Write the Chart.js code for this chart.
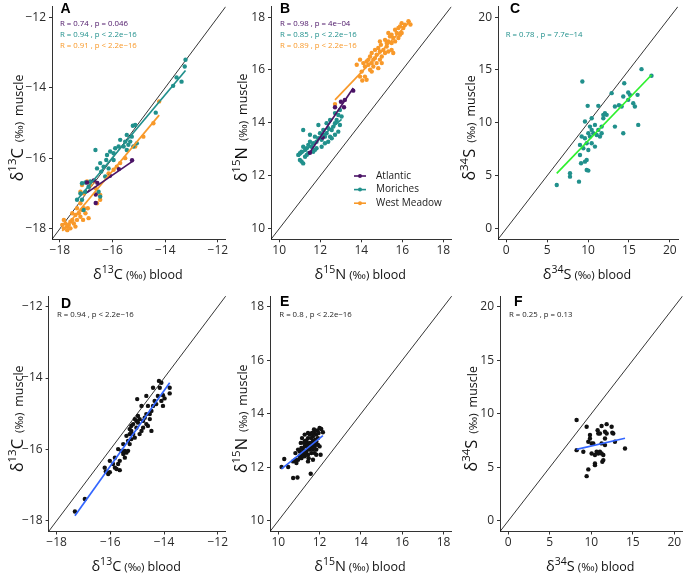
<!DOCTYPE html>
<html>
<head>
<meta charset="utf-8">
<script src="https://cdn.jsdelivr.net/npm/chart.js@4.4.0/dist/chart.umd.min.js"></script>
<style>
  html, body { margin: 0; padding: 0; background: #fff; }
  #fig { position: relative; width: 685px; height: 577px; overflow: hidden; }
  #fig canvas { position: absolute; }
</style>
</head>
<body>
<div id="fig">
  <canvas id="pA" width="228" height="287" style="left:0;top:0"></canvas>
  <canvas id="pB" width="226" height="287" style="left:228px;top:0"></canvas>
  <canvas id="pC" width="231" height="287" style="left:454px;top:0"></canvas>
  <canvas id="pD" width="228" height="290" style="left:0;top:287px"></canvas>
  <canvas id="pE" width="226" height="290" style="left:228px;top:287px"></canvas>
  <canvas id="pF" width="231" height="290" style="left:454px;top:287px"></canvas>
</div>
<script>
// ---- axes ----
const cLim = [-18.3, -11.7], cTicks = [-18, -16, -14, -12];
const nLim = [9.6, 18.4], nTicks = [10, 12, 14, 16, 18];
const sLim = [-1, 21], sTicks = [0, 5, 10, 15, 20];

const siteNames = ['Atlantic', 'Moriches', 'West Meadow'];

// ---- A: d13C by site ----
const cAtlX = [-15.26, -15.76, -16.10, -16.58, -16.71, -16.64, -16.64, -16.97];
const cAtlY = [-16.06, -16.31, -16.50, -16.70, -16.63, -17.03, -17.27, -16.69];
const cMorX = [-13.23, -13.26, -13.57, -13.38, -13.70, -14.36, -15.23, -15.14, -15.46, -15.27,
  -15.08, -15.40, -15.21, -15.58, -15.77, -15.90, -16.09, -15.96, -16.21, -16.24,
  -15.96, -16.65, -16.47, -16.34, -16.59, -16.43, -16.15, -16.28, -16.84, -17.03,
  -17.16, -16.91, -17.03, -17.22, -17.16, -16.53, -16.47, -17.35, -17.10, -15.71,
  -15.52, -15.33, -15.46];
const cMorY = [-13.21, -13.40, -13.71, -13.83, -13.95, -14.71, -15.08, -15.06, -15.34, -15.39,
  -15.58, -15.62, -15.67, -15.67, -15.67, -15.72, -15.81, -15.86, -15.91, -16.05,
  -16.05, -15.77, -16.14, -16.24, -16.29, -16.38, -16.29, -16.52, -16.66, -16.69,
  -16.71, -16.81, -16.95, -17.00, -17.18, -16.95, -17.09, -17.18, -17.47, -15.48,
  -15.53, -15.53, -15.77];
const cWmX = [-17.85, -17.79, -17.72, -17.66, -17.60, -17.53, -17.47, -17.41, -17.35, -17.72,
  -17.60, -17.91, -17.85, -17.22, -17.28, -17.41, -17.16, -17.09, -17.35, -17.53,
  -17.03, -16.91, -17.22, -17.22, -17.09, -17.16, -16.97, -16.84, -16.72, -16.47,
  -16.47, -16.59, -16.15, -15.96, -15.84, -15.71, -15.52, -15.14, -14.83, -14.45,
  -14.23, -16.65, -17.12, -16.94];
const cWmY = [-17.75, -17.85, -17.94, -17.89, -17.80, -17.75, -17.85, -17.94, -17.75, -18.04,
  -17.99, -17.89, -17.99, -17.66, -17.56, -17.61, -17.47, -17.42, -17.42, -17.56,
  -17.56, -17.70, -17.28, -16.95, -17.00, -16.76, -16.66, -16.76, -16.66, -17.04,
  -17.18, -17.28, -16.43, -16.33, -16.24, -16.14, -16.00, -15.67, -15.39, -15.01,
  -14.39, -16.85, -17.75, -17.42];
const statsA = ['R = 0.74 , p = 0.046', 'R = 0.94 , p < 2.2e\u221216', 'R = 0.91 , p < 2.2e\u221216'];

// ---- B: d15N by site ----
const nAtlX = [13.61, 13.20, 13.01, 12.72, 13.16, 12.12, 11.50];
const nAtlY = [15.22, 14.87, 14.80, 14.59, 14.59, 13.45, 12.87];
const nMorX = [12.96, 12.88, 13.04, 12.80, 12.72, 12.64, 12.96, 12.56, 12.39, 12.31,
  12.48, 12.23, 12.15, 12.07, 11.99, 11.91, 11.82, 11.74, 11.66, 11.58,
  11.50, 11.42, 11.34, 11.26, 11.17, 11.09, 11.17, 11.01, 10.93, 11.09,
  11.01, 11.26, 11.42, 11.66, 11.82, 12.07, 12.23, 12.39, 12.56, 12.72,
  12.88, 12.31, 12.48, 12.72, 12.15, 11.50, 11.91, 11.74, 11.34, 11.17];
const nMorY = [14.49, 14.30, 14.24, 14.11, 13.99, 13.86, 13.92, 13.73, 13.80, 13.61,
  13.48, 13.48, 13.55, 13.36, 13.61, 13.42, 13.29, 13.48, 13.23, 13.10,
  13.29, 13.17, 13.04, 12.98, 13.10, 12.91, 13.73, 12.85, 12.79, 12.54,
  12.60, 12.72, 12.85, 12.91, 13.04, 13.10, 13.23, 13.29, 13.42, 13.55,
  13.67, 13.99, 14.11, 14.37, 13.73, 13.55, 13.92, 12.98, 12.79, 12.47];
const nWmX = [16.30, 16.13, 15.97, 15.81, 15.73, 15.89, 15.65, 15.56, 15.48, 15.40,
  15.32, 15.24, 15.16, 15.08, 14.96, 15.16, 15.00, 14.91, 14.83, 14.75,
  14.67, 14.59, 14.51, 14.43, 14.35, 14.59, 14.75, 14.83, 14.43, 14.26,
  14.18, 14.10, 13.94, 14.02, 14.18, 14.05, 14.26, 13.94, 13.78, 15.00,
  15.32, 15.48, 15.56, 15.24, 15.65, 15.81, 15.97, 16.05, 15.89, 15.32,
  14.91, 14.67, 14.51, 14.35, 14.51, 14.91, 15.48, 12.72, 16.40];
const nWmY = [17.84, 17.71, 17.77, 17.59, 17.40, 17.33, 17.52, 17.21, 17.02, 17.27,
  17.08, 16.89, 17.14, 16.76, 16.95, 16.64, 16.51, 16.70, 16.83, 16.58,
  16.45, 16.39, 16.26, 16.51, 16.20, 16.13, 16.26, 16.07, 16.01, 16.32,
  16.13, 16.26, 16.39, 15.94, 15.75, 15.60, 15.63, 15.75, 16.20, 16.26,
  16.70, 16.76, 16.64, 17.02, 17.08, 17.21, 17.40, 17.59, 17.65, 17.40,
  17.08, 16.76, 16.64, 16.39, 15.94, 16.39, 17.33, 14.71, 17.72];
const statsB = ['R = 0.98 , p = 4e\u221204', 'R = 0.85 , p < 2.2e\u221216', 'R = 0.89 , p < 2.2e\u221216'];

// ---- C: d34S, Moriches ----
const sMorX = [17.76, 16.54, 16.06, 14.92, 15.12, 14.31, 14.43, 14.92, 15.53, 15.73,
  16.14, 14.31, 13.29, 12.89, 13.29, 13.78, 14.11, 12.07, 12.28, 11.87,
  11.87, 11.26, 11.67, 11.26, 11.67, 11.06, 11.46, 10.65, 10.85, 10.45,
  10.24, 10.45, 10.04, 10.24, 9.96, 9.63, 9.63, 9.23, 9.43, 9.02,
  9.84, 10.04, 10.45, 10.85, 9.84, 9.63, 9.84, 10.04, 9.02, 9.15,
  7.80, 7.80, 8.90, 6.18, 9.31];
const sMorY = [14.45, 15.08, 12.65, 12.87, 12.65, 12.49, 13.75, 12.18, 11.86, 11.55,
  9.81, 9.02, 9.65, 12.81, 11.55, 11.67, 11.55, 10.91, 10.76, 10.76,
  10.44, 11.61, 9.65, 9.34, 9.02, 8.86, 8.71, 9.02, 9.81, 10.44,
  9.65, 9.34, 9.02, 8.71, 11.61, 10.13, 8.55, 8.71, 7.60, 7.92,
  8.08, 7.44, 8.08, 7.76, 6.50, 6.34, 5.55, 5.49, 6.97, 6.18,
  5.24, 4.92, 4.45, 4.13, 13.91];
const statsC = ['R = 0.78 , p = 7.7e\u221214'];

// ---- D: d13C, all ----
const cAllX = [-17.32, -16.95, -16.21, -16.17, -16.08, -16.02, -16.02, -15.90, -15.83, -15.71,
  -15.77, -15.65, -15.71, -15.59, -15.65, -15.52, -15.46, -15.40, -15.34, -15.46,
  -15.28, -15.22, -15.28, -15.22, -15.28, -15.15, -15.09, -15.03, -15.03, -14.97,
  -14.91, -14.97, -14.91, -14.84, -14.78, -14.72, -14.66, -14.66, -14.60, -14.53,
  -14.47, -14.47, -14.60, -14.41, -14.35, -14.29, -14.23, -14.16, -14.10, -14.19,
  -14.04, -13.98, -14.10, -13.79, -13.79, -14.04, -15.00, -14.66, -14.41, -14.84,
  -15.09, -15.15, -15.40, -15.34, -14.78, -14.53, -15.22, -15.52, -15.83];
const cAllY = [-17.74, -17.39, -16.51, -16.62, -16.69, -16.64, -16.32, -16.41, -16.51, -16.41,
  -16.55, -16.32, -15.99, -16.04, -16.58, -16.13, -16.04, -16.09, -16.04, -16.23,
  -15.85, -15.71, -15.57, -15.48, -15.43, -15.57, -15.67, -15.20, -15.39, -15.25,
  -15.15, -15.06, -15.57, -15.48, -15.20, -15.11, -15.01, -15.29, -15.34, -15.01,
  -14.92, -15.48, -14.78, -14.78, -14.64, -14.73, -14.50, -14.27, -14.13, -14.08,
  -14.48, -14.57, -14.64, -14.27, -14.43, -14.78, -14.59, -14.50, -14.27, -14.78,
  -15.15, -15.29, -15.62, -15.76, -15.39, -15.15, -15.34, -15.85, -16.23];
const statsD = ['R = 0.94 , p < 2.2e\u221216'];

// ---- E: d15N, all ----
const nAllX = [10.16, 10.29, 10.48, 10.72, 10.93, 11.57, 12.05, 12.08, 12.00, 12.16,
  11.84, 11.76, 11.68, 11.63, 11.52, 11.44, 11.36, 11.28, 11.36, 11.52,
  11.68, 11.84, 11.92, 11.76, 11.60, 11.44, 11.28, 11.20, 11.12, 11.04,
  11.20, 11.36, 11.52, 11.68, 11.76, 11.84, 11.92, 12.00, 11.60, 11.44,
  11.28, 11.12, 10.96, 11.04, 10.83, 10.72, 10.88, 11.44, 11.25, 11.68,
  11.84, 11.60, 11.44, 11.28, 11.15, 11.09, 10.96, 10.83, 11.73, 11.89,
  11.95, 11.57, 11.79, 11.41, 11.66, 11.31, 11.15, 11.47, 11.76];
const nAllY = [12.01, 12.31, 12.01, 11.60, 11.62, 11.76, 12.47, 13.43, 13.47, 13.31,
  13.22, 13.28, 13.16, 13.28, 13.22, 13.09, 13.00, 12.97, 12.91, 12.91,
  12.97, 12.97, 13.09, 12.84, 12.78, 12.72, 12.78, 12.66, 12.72, 12.59,
  12.53, 12.59, 12.66, 12.66, 12.78, 12.66, 12.84, 12.78, 12.53, 12.47,
  12.41, 12.34, 12.28, 12.41, 12.28, 12.22, 12.16, 12.22, 12.91, 12.28,
  12.47, 13.09, 13.28, 13.22, 13.09, 12.91, 12.66, 12.53, 13.41, 13.38,
  13.28, 12.91, 13.03, 12.81, 12.72, 12.53, 12.47, 12.34, 12.53];
const statsE = ['R = 0.8 , p < 2.2e\u221216'];

// ---- F: d34S, all ----
const sAllX = [8.23, 8.23, 9.04, 9.44, 9.44, 9.64, 9.84, 9.84, 9.64, 10.04,
  10.24, 10.04, 10.44, 10.44, 10.44, 10.76, 10.84, 11.04, 11.24, 11.24,
  11.04, 10.84, 10.64, 11.24, 11.45, 11.45, 11.33, 11.65, 11.85, 11.85,
  11.65, 11.65, 12.45, 12.53, 12.65, 12.85, 14.06];
const sAllY = [9.41, 6.60, 6.45, 8.79, 4.17, 4.80, 8.01, 7.69, 7.38, 7.23,
  7.23, 6.29, 6.14, 5.36, 5.20, 8.47, 8.16, 8.16, 8.85, 7.23,
  6.45, 6.29, 6.45, 6.29, 6.14, 5.67, 5.51, 8.32, 9.03, 8.16,
  7.07, 7.69, 8.79, 8.22, 8.16, 7.38, 6.76];
const statsF = ['R = 0.25 , p = 0.13'];

// colours
const atlCol = '#4a1366', morCol = '#21908c', wmCol = '#f8992a';
const limeCol = '#2ef02e', blueCol = '#3366ff', inkCol = '#111';

function pts(xs, ys) { return xs.map((x, i) => ({ x: x, y: ys[i] })); }

// least squares line over the range of x (geom_smooth, method = lm)
function lmLine(xs, ys) {
  const n = xs.length;
  const mx = xs.reduce((a, b) => a + b, 0) / n;
  const my = ys.reduce((a, b) => a + b, 0) / n;
  let sxy = 0, sxx = 0;
  xs.forEach((x, i) => { sxy += (x - mx) * (ys[i] - my); sxx += (x - mx) * (x - mx); });
  const b = sxy / sxx, a = my - b * mx;
  const lo = Math.min(...xs), hi = Math.max(...xs);
  return [{ x: lo, y: a + b * lo }, { x: hi, y: a + b * hi }];
}

function titleParts(mass, el, word, vertical) {
  if (vertical) {
    return [['\u03b4', 16, 0], [mass, 11.5, 7], [el, 16.5, 0], ['  (\u2030)  ', 11.5, 0], [word, 12.5, 0]];
  }
  return [['\u03b4', 14.5, 0], [mass, 10.5, 6], [el, 14.5, 0], [' (\u2030) ', 11.5, 0], [word, 12.5, 0]];
}

function rich(ctx, parts, x, y, vertical) {
  ctx.save();
  ctx.translate(x, y);
  if (vertical) ctx.rotate(-Math.PI / 2);
  let total = 0;
  parts.forEach(p => { ctx.font = p[1] + 'px "Open Sans"'; total += ctx.measureText(p[0]).width; });
  let cx = -total / 2;
  ctx.fillStyle = '#111';
  ctx.textAlign = 'left';
  ctx.textBaseline = 'alphabetic';
  parts.forEach(p => {
    ctx.font = p[1] + 'px "Open Sans"';
    ctx.fillText(p[0], cx, -p[2]);
    cx += ctx.measureText(p[0]).width;
  });
  ctx.restore();
}

const decor = {
  id: 'decor',
  afterDraw(chart, args, o) {
    const ctx = chart.ctx, a = chart.chartArea;
    ctx.save();
    ctx.textAlign = 'left';
    ctx.textBaseline = 'alphabetic';
    ctx.fillStyle = '#000';
    ctx.font = 'bold 14px "Liberation Sans"';
    ctx.fillText(o.letter, a.left + o.letterDx, a.top + o.letterDy);

    ctx.font = '7.8px "Open Sans"';
    o.stats.forEach((s, i) => {
      ctx.fillStyle = o.statCols[i];
      ctx.fillText(s, a.left + o.statDx, a.top + o.statDy + (o.statRow0 + i) * 10.7);
    });

    rich(ctx, o.xTitle, (a.left + a.right) / 2 - 1, a.bottom + o.xTitleDy, false);
    rich(ctx, o.yTitle, o.yTitleX, (a.top + a.bottom) / 2 + 5, true);

    if (o.legend) {
      const kx = a.left + 89, tx = a.left + 105;
      o.legend.names.forEach((nm, i) => {
        const ky = a.top + 169.5 + i * 13.6;
        ctx.strokeStyle = o.legend.cols[i];
        ctx.lineWidth = 1.6;
        ctx.beginPath(); ctx.moveTo(kx - 6, ky); ctx.lineTo(kx + 6, ky); ctx.stroke();
        ctx.fillStyle = o.legend.cols[i];
        ctx.beginPath(); ctx.arc(kx, ky, 2, 0, Math.PI * 2); ctx.fill();
        ctx.fillStyle = '#1a1a1a';
        ctx.font = '10px "Open Sans"';
        ctx.textBaseline = 'middle';
        ctx.fillText(nm, tx, ky);
        ctx.textBaseline = 'alphabetic';
      });
    }
    ctx.restore();
  }
};

function axis(lim, ticks, isX, size) {
  return {
    type: 'linear',
    min: lim[0], max: lim[1],
    afterBuildTicks: s => { s.ticks = ticks.map(v => ({ value: v })); },
    afterFit: s => {
      if (isX) { s.height = size; s.paddingLeft = 0; s.paddingRight = 0; }
      else { s.width = size; s.paddingTop = 0; s.paddingBottom = 0; }
    },
    grid: { display: true, drawOnChartArea: false, drawTicks: true, tickLength: 3, color: '#333', lineWidth: 1 },
    border: { display: true, color: '#333', width: 1 },
    ticks: {
      color: '#2b2b2b',
      padding: isX ? 1 : 3,
      maxRotation: 0,
      autoSkip: false,
      font: { family: '"Open Sans"', size: 12 },
      callback: v => String(v).replace('-', '\u2212')
    }
  };
}

function makePanel(p) {
  const datasets = [];
  p.groups.forEach(g => {
    datasets.push({
      type: 'line', data: lmLine(g.xs, g.ys), borderColor: g.fit, borderWidth: 1.7,
      pointRadius: 0, fill: false, tension: 0
    });
  });
  p.groups.forEach(g => {
    datasets.push({
      type: 'scatter', data: pts(g.xs, g.ys), backgroundColor: g.col,
      pointRadius: 2.2, borderWidth: 0, pointHoverRadius: 2.2
    });
  });
  datasets.push({
    type: 'line', data: [{ x: p.lim[0], y: p.lim[0] }, { x: p.lim[1], y: p.lim[1] }],
    borderColor: '#000', borderWidth: 0.8, pointRadius: 0, fill: false
  });

  new Chart(document.getElementById(p.id), {
    type: 'scatter',
    data: { datasets: datasets },
    options: {
      responsive: false,
      animation: false,
      layout: { padding: { left: 0, right: p.padR, top: p.padT, bottom: 0 } },
      scales: {
        x: axis(p.lim, p.ticks, true, p.xh),
        y: axis(p.lim, p.ticks, false, p.yw)
      },
      plugins: {
        legend: { display: false },
        tooltip: { enabled: false },
        decor: {
          letter: p.letter, letterDx: p.letterDx, letterDy: p.letterDy,
          stats: p.stats, statCols: p.statCols, statDx: p.statDx,
          statDy: p.statDy, statRow0: p.statRow0 || 0,
          xTitle: p.xTitle, xTitleDy: p.xTitleDy,
          yTitle: p.yTitle, yTitleX: p.yTitleX,
          legend: p.legend || null
        }
      }
    },
    plugins: [decor]
  });
}

const siteCols = [atlCol, morCol, wmCol];

makePanel({
  id: 'pA', lim: cLim, ticks: cTicks, yw: 52, xh: 47.7, padR: 2, padT: 6.5,
  groups: [
    { xs: cAtlX, ys: cAtlY, col: atlCol, fit: atlCol },
    { xs: cMorX, ys: cMorY, col: morCol, fit: morCol },
    { xs: cWmX, ys: cWmY, col: wmCol, fit: wmCol }
  ],
  letter: 'A', letterDx: 8.5, letterDy: 6.3,
  stats: statsA, statCols: siteCols, statDx: 8, statDy: 19.6,
  xTitle: titleParts('13', 'C', 'blood', false), xTitleDy: 40,
  yTitle: titleParts('13', 'C', 'muscle', true), yTitleX: 22.5
});
makePanel({
  id: 'pB', lim: nLim, ticks: nTicks, yw: 43, xh: 47.7, padR: 2.5, padT: 6.5,
  groups: [
    { xs: nAtlX, ys: nAtlY, col: atlCol, fit: atlCol },
    { xs: nMorX, ys: nMorY, col: morCol, fit: morCol },
    { xs: nWmX, ys: nWmY, col: wmCol, fit: wmCol }
  ],
  letter: 'B', letterDx: 9, letterDy: 6.3,
  stats: statsB, statCols: siteCols, statDx: 9, statDy: 19.6,
  xTitle: titleParts('15', 'N', 'blood', false), xTitleDy: 40,
  yTitle: titleParts('15', 'N', 'muscle', true), yTitleX: 18.5,
  legend: { names: siteNames, cols: siteCols }
});
makePanel({
  id: 'pC', lim: sLim, ticks: sTicks, yw: 44, xh: 47.7, padR: 7, padT: 6.5,
  groups: [{ xs: sMorX, ys: sMorY, col: morCol, fit: limeCol }],
  letter: 'C', letterDx: 12, letterDy: 6.3,
  stats: statsC, statCols: [morCol], statDx: 7.7, statDy: 19.6, statRow0: 1,
  xTitle: titleParts('34', 'S', 'blood', false), xTitleDy: 40,
  yTitle: titleParts('34', 'S', 'muscle', true), yTitleX: 21
});
makePanel({
  id: 'pD', lim: cLim, ticks: cTicks, yw: 48.6, xh: 45.5, padR: 1.6, padT: 9,
  groups: [{ xs: cAllX, ys: cAllY, col: inkCol, fit: blueCol }],
  letter: 'D', letterDx: 12.4, letterDy: 11.5,
  stats: statsD, statCols: ['#222'], statDx: 8.4, statDy: 20.5,
  xTitle: titleParts('13', 'C', 'blood', false), xTitleDy: 39.5,
  yTitle: titleParts('13', 'C', 'muscle', true), yTitleX: 22.5
});
makePanel({
  id: 'pE', lim: nLim, ticks: nTicks, yw: 42, xh: 45.5, padR: 0.7, padT: 9,
  groups: [{ xs: nAllX, ys: nAllY, col: inkCol, fit: blueCol }],
  letter: 'E', letterDx: 10, letterDy: 10,
  stats: statsE, statCols: ['#222'], statDx: 9.3, statDy: 20.5,
  xTitle: titleParts('15', 'N', 'blood', false), xTitleDy: 39.5,
  yTitle: titleParts('15', 'N', 'muscle', true), yTitleX: 19
});
makePanel({
  id: 'pF', lim: sLim, ticks: sTicks, yw: 46, xh: 45.5, padR: 2.4, padT: 9,
  groups: [{ xs: sAllX, ys: sAllY, col: inkCol, fit: blueCol }],
  letter: 'F', letterDx: 14, letterDy: 10,
  stats: statsF, statCols: ['#222'], statDx: 9, statDy: 20.5,
  xTitle: titleParts('34', 'S', 'blood', false), xTitleDy: 39.5,
  yTitle: titleParts('34', 'S', 'muscle', true), yTitleX: 23
});
</script>
</body>
</html>
